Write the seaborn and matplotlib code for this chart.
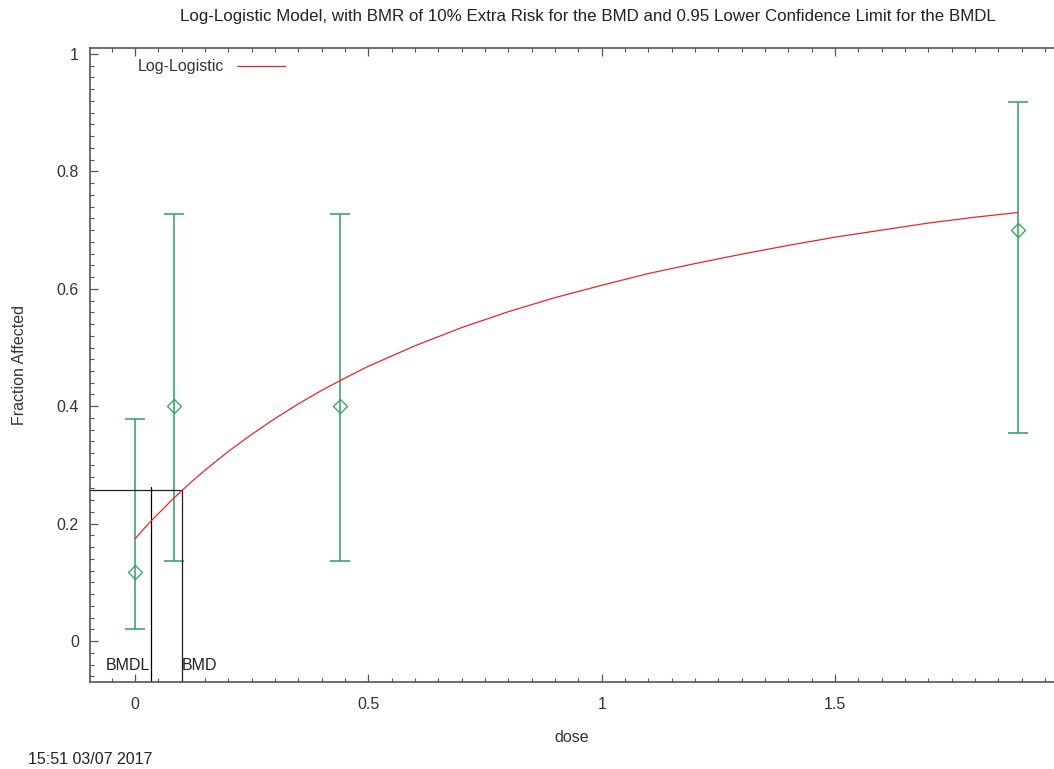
import matplotlib
matplotlib.use("Agg")
import matplotlib.pyplot as plt
from matplotlib.ticker import MultipleLocator
import seaborn as sns
import pandas as pd

# observed data (dose, fraction affected, 95% error bar limits)
dose = [0.0, 0.0836, 0.439, 1.892]
frac = [0.118, 0.40, 0.40, 0.70]
err_low = [0.021, 0.137, 0.137, 0.354]
err_high = [0.378, 0.727, 0.727, 0.919]

# fitted log-logistic curve
curve_dose = [0.0, 0.01, 0.02, 0.035, 0.05, 0.075, 0.1, 0.125, 0.15, 0.2, 0.25,
              0.3, 0.35, 0.4, 0.45, 0.5, 0.6, 0.7, 0.8, 0.9, 1.0, 1.1, 1.2,
              1.3, 1.4, 1.5, 1.6, 1.7, 1.8, 1.892]
curve_frac = [0.174, 0.183, 0.192, 0.205, 0.217, 0.237, 0.256, 0.274, 0.291,
              0.323, 0.352, 0.379, 0.404, 0.427, 0.448, 0.468, 0.503, 0.534,
              0.561, 0.585, 0.606, 0.626, 0.643, 0.659, 0.674, 0.688, 0.700,
              0.712, 0.722, 0.730]

bmd = 0.1007
bmdl = 0.0343
bmr_level = 0.2566

x_ticks = [0, 0.5, 1, 1.5]
x_tick_labels = ["0", "0.5", "1", "1.5"]
y_ticks = [0, 0.2, 0.4, 0.6, 0.8, 1]
y_tick_labels = ["0", "0.2", "0.4", "0.6", "0.8", "1"]

sns.set_style("white")
plt.rcParams['font.family'] = ['Liberation Sans', 'DejaVu Sans']

green = "#2f9e62"
red = "#e8262a"
grey = "#555555"

fig = plt.figure(figsize=(10.54, 7.69), dpi=100)
ax = fig.add_axes([90 / 1054, 1 - 682 / 769, 964 / 1054, 634 / 769])

curve_df = pd.DataFrame({"dose": curve_dose, "frac": curve_frac})
sns.lineplot(data=curve_df, x="dose", y="frac", ax=ax, color=red, linewidth=0.9,
             label="Log-Logistic", zorder=3)

yerr = [[f - lo for f, lo in zip(frac, err_low)],
        [hi - f for f, hi in zip(frac, err_high)]]
ax.errorbar(dose, frac, yerr=yerr, fmt="none", ecolor=green, elinewidth=1.1,
            capsize=7.5, capthick=1.1, zorder=2)
ax.plot(dose, frac, linestyle="none", marker="D", markersize=7.5,
        markerfacecolor="none", markeredgecolor=green, markeredgewidth=0.9, zorder=4)

# BMD / BMDL markers
ax.plot([-0.0964, bmd], [bmr_level, bmr_level], color="#222222", linewidth=0.9)
ax.plot([bmd, bmd], [-0.0698, bmr_level], color="#222222", linewidth=0.9)
ax.plot([bmdl, bmdl], [-0.0698, bmr_level + 0.005], color="#000000", linewidth=0.9)
ax.text(bmdl - 0.002, -0.041, "BMDL", ha="right", va="center", fontsize=11.5, color="#222222")
ax.text(bmd, -0.041, "BMD", ha="left", va="center", fontsize=11.5, color="#222222")

ax.set_xlim(-0.0964, 1.969)
ax.set_ylim(-0.0698, 1.0102)

ax.set_xticks(x_ticks)
ax.set_xticklabels(x_tick_labels)
ax.set_yticks(y_ticks)
ax.set_yticklabels(y_tick_labels)
ax.xaxis.set_minor_locator(MultipleLocator(0.05))
ax.yaxis.set_minor_locator(MultipleLocator(0.02))
ax.tick_params(axis="both", which="major", direction="in", length=6, width=0.9,
               color=grey, labelsize=11.5, labelcolor="#333333", pad=8,
               top=True, bottom=True, left=True, right=False)
ax.tick_params(axis="both", which="minor", direction="in", length=3, width=0.8,
               color=grey, top=True, bottom=True, left=True, right=False)
ax.tick_params(axis="x", which="major", pad=11)

for side in ["left", "top", "bottom"]:
    ax.spines[side].set_color(grey)
    ax.spines[side].set_linewidth(1.2)
ax.spines["right"].set_visible(False)

ax.set_xlabel("dose", fontsize=11.5, color="#333333", labelpad=13)
ax.set_ylabel("Fraction Affected", fontsize=11.5, color="#333333", labelpad=21)

leg = ax.legend(loc="upper left", bbox_to_anchor=(0.035, 1.005), frameon=False,
                markerfirst=False, handlelength=3.0, fontsize=11.5)
for t in leg.get_texts():
    t.set_color("#333333")

fig.text(588 / 1054, 1 - 16 / 769,
         "Log-Logistic Model, with BMR of 10% Extra Risk for the BMD and 0.95 Lower Confidence Limit for the BMDL",
         ha="center", va="center", fontsize=12.2, color="#222222")
fig.text(28 / 1054, 1 - 760 / 769, "15:51 03/07 2017", ha="left", va="center",
         fontsize=11.5, color="#222222")

fig.savefig("out.png", dpi=100)
